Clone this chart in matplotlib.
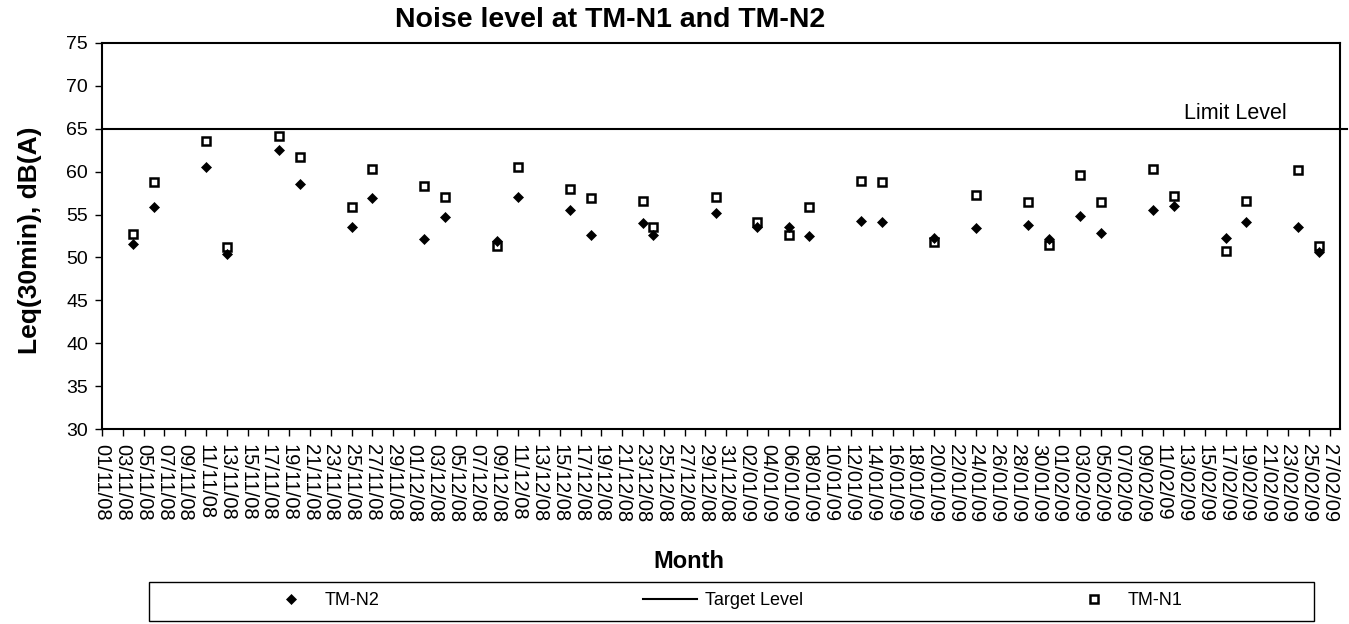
# Noise level chart for TM-N1 and TM-N2
import matplotlib
matplotlib.use('Agg')
import matplotlib.pyplot as plt
import matplotlib.dates as mdates
from matplotlib.patches import Rectangle
import pandas as pd

plt.rcParams['font.family'] = ['Liberation Sans', 'DejaVu Sans']

# measurement dates
dates = ['2008-11-04', '2008-11-06', '2008-11-11', '2008-11-13', '2008-11-18', '2008-11-20',
         '2008-11-25', '2008-11-27', '2008-12-02', '2008-12-04', '2008-12-09', '2008-12-11',
         '2008-12-16', '2008-12-18', '2008-12-23', '2008-12-24', '2008-12-30', '2009-01-03',
         '2009-01-06', '2009-01-08', '2009-01-13', '2009-01-15', '2009-01-20', '2009-01-24',
         '2009-01-29', '2009-01-31', '2009-02-03', '2009-02-05', '2009-02-10', '2009-02-12',
         '2009-02-17', '2009-02-19', '2009-02-24', '2009-02-26']

# Leq(30min) readings, dB(A)
tm_n1 = [52.7, 58.8, 63.6, 51.2, 64.2, 61.7, 55.9, 60.3, 58.3, 57.1, 51.3, 60.5,
         58.0, 56.9, 56.6, 53.6, 57.1, 54.1, 52.6, 55.9, 58.9, 58.8, 51.8, 57.3,
         56.5, 51.5, 59.6, 56.5, 60.3, 57.2, 50.8, 56.6, 60.2, 51.3]
tm_n2 = [51.6, 55.9, 60.6, 50.4, 62.5, 58.6, 53.5, 56.9, 52.2, 54.7, 51.9, 57.0,
         55.5, 52.6, 54.0, 52.6, 55.2, 53.5, 53.6, 52.5, 54.2, 54.1, 52.3, 53.4,
         53.8, 52.1, 54.8, 52.8, 55.5, 56.0, 52.3, 54.1, 53.5, 50.6]

limit_level = 65
y_ticks = [30, 35, 40, 45, 50, 55, 60, 65, 70, 75]

dates = pd.to_datetime(dates)
tick_dates = pd.date_range('2008-11-01', '2009-02-27', freq='2D')

fig = plt.figure(figsize=(13.49, 6.24), dpi=100)
ax = fig.add_axes([0.0756, 0.3125, 0.9177, 0.6186])

# plotting the two stations and the limit line
ax.plot(dates, tm_n2, linestyle='none', marker='D', ms=5, color='black', mew=0.5, label='TM-N2')
ax.axhline(limit_level, xmax=1.006, clip_on=False, color='black', lw=1.5, label='Target Level')
ax.plot(dates, tm_n1, linestyle='none', marker='s', ms=5.5, mfc='none', mec='black',
        mew=1.8, label='TM-N1')

ax.text(0.957, limit_level + 1.8, 'Limit Level', transform=ax.get_yaxis_transform(),
        ha='right', va='center', fontsize=15.5)

# axes setup
ax.set_xlim(pd.Timestamp('2008-11-01'), pd.Timestamp('2009-02-28'))
ax.set_xticks(tick_dates)
ax.xaxis.set_major_formatter(mdates.DateFormatter('%d/%m/%y'))
ax.set_ylim(30, 75)
ax.set_yticks(y_ticks)
ax.tick_params(axis='x', labelrotation=-90, labelsize=14.5, length=5, width=1, pad=6)
ax.tick_params(axis='y', labelsize=14, length=5, width=1, pad=5)
for side in ax.spines.values():
    side.set_linewidth(1.5)

# titles
fig.text(0.452, 0.968, 'Noise level at TM-N1 and TM-N2', ha='center', va='center',
         fontsize=20.5, fontweight='bold')
fig.text(0.022, 0.615, 'Leq(30min), dB(A)', rotation=90, ha='center', va='center',
         fontsize=19, fontweight='bold')
fig.text(0.511, 0.1, 'Month', ha='center', va='center', fontsize=17, fontweight='bold')

# legend box at the bottom
fig.patches.append(Rectangle((0.1105, 0.0048), 0.8636, 0.0625, transform=fig.transFigure,
                             fill=False, ec='black', lw=1))
handles, labels = ax.get_legend_handles_labels()
fig.legend(handles, labels, loc='center', bbox_to_anchor=(0.536, 0.037), ncol=3,
           frameon=False, fontsize=13, handlelength=3, columnspacing=14.6, handletextpad=0.4)

fig.savefig('out.png', dpi=100)
